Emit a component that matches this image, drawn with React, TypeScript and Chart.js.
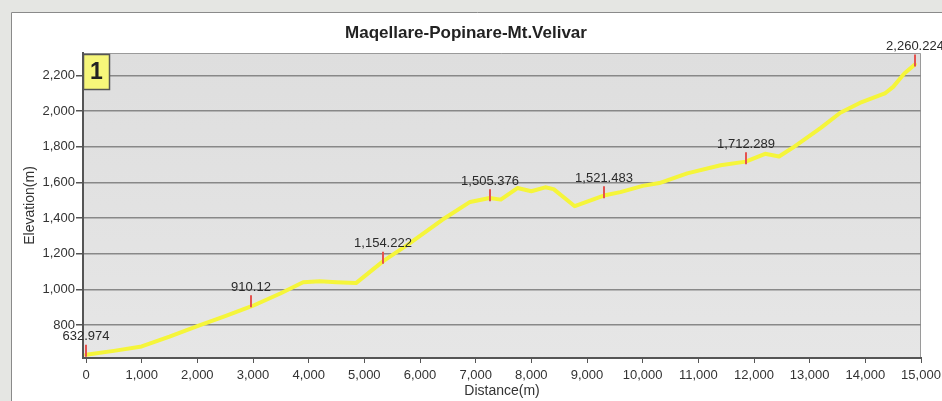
import { useEffect, useRef } from "react";
import { Chart, registerables } from "chart.js";
Chart.register(...registerables);

const chartTitle = "Maqellare-Popinare-Mt.Velivar";
const xAxisTitle = "Distance(m)";
const yAxisTitle = "Elevation(m)";
const badgeText = "1";

const distances = [
  0, 500, 1000, 1500, 2000, 2500, 3000, 3500, 3900, 4200, 4500, 4850, 5340, 5800, 6400, 6900,
  7250, 7450, 7750, 8000, 8250, 8400, 8780, 9300, 9600, 10000, 10300, 10800, 11400, 11850,
  12200, 12450, 12700, 13200, 13550, 13900, 14350, 14500, 14700, 14890,
];
const elevations = [
  633, 655, 680, 735, 794, 850, 908, 978, 1040, 1045, 1040, 1035, 1158, 1255, 1390, 1490,
  1512, 1503, 1568, 1550, 1572, 1562, 1466, 1526, 1545, 1580, 1596, 1650, 1696, 1716,
  1760, 1745, 1795, 1905, 1990, 2045, 2098, 2135, 2210, 2261,
];

const markerDistances = [0, 2970, 5340, 7250, 9300, 11850, 14890];
const markerElevations = [632.974, 910.12, 1154.222, 1505.376, 1521.483, 1712.289, 2260.224];
const markerLabels = ["632.974", "910.12", "1,154.222", "1,505.376", "1,521.483", "1,712.289", "2,260.224"];

const xTickValues = [0, 1000, 2000, 3000, 4000, 5000, 6000, 7000, 8000, 9000, 10000, 11000, 12000, 13000, 14000, 15000];
const yTickValues = [800, 1000, 1200, 1400, 1600, 1800, 2000, 2200];

const FONT = "'Liberation Sans', Arial, sans-serif";

const framePlugin = {
  id: "frame",
  beforeDraw(chart: any) {
    const { ctx, chartArea, width, height } = chart;
    ctx.save();
    ctx.fillStyle = "#e5e6e3";
    ctx.fillRect(0, 0, width, height);
    ctx.fillStyle = "#ffffff";
    ctx.fillRect(11, 12, width, height);
    ctx.strokeStyle = "#8a8a8a";
    ctx.lineWidth = 1;
    ctx.beginPath();
    ctx.moveTo(11.5, height + 2);
    ctx.lineTo(11.5, 12.5);
    ctx.lineTo(width + 2, 12.5);
    ctx.stroke();
    const { left, top, right, bottom } = chartArea;
    const g = ctx.createLinearGradient(0, top, 0, bottom);
    g.addColorStop(0, "#dedede");
    g.addColorStop(1, "#e6e6e6");
    ctx.fillStyle = g;
    ctx.fillRect(left, top, right - left, bottom - top);
    ctx.strokeStyle = "#9a9a9a";
    ctx.beginPath();
    ctx.moveTo(left, top + 0.5);
    ctx.lineTo(right - 0.5, top + 0.5);
    ctx.lineTo(right - 0.5, bottom);
    ctx.stroke();
    ctx.restore();
  },
  afterDatasetsDraw(chart: any) {
    const { ctx } = chart;
    const xs = chart.scales.x;
    const ys = chart.scales.y;
    ctx.save();
    ctx.font = `13px ${FONT}`;
    ctx.textAlign = "center";
    ctx.textBaseline = "middle";
    markerDistances.forEach((d, i) => {
      const px = Math.round(xs.getPixelForValue(d));
      const py = ys.getPixelForValue(markerElevations[i]);
      ctx.strokeStyle = "#e5524e";
      ctx.lineWidth = 2;
      ctx.beginPath();
      ctx.moveTo(px, py + 2);
      ctx.lineTo(px, py - 10);
      ctx.stroke();
      ctx.fillStyle = "#2a2a2a";
      ctx.fillText(markerLabels[i], px, py - 18);
    });
    ctx.restore();
  },
  afterDraw(chart: any) {
    const { ctx, chartArea } = chart;
    const bx = chartArea.left + 0.5;
    const by = chartArea.top + 1.5;
    ctx.save();
    ctx.fillStyle = "#f6f67a";
    ctx.fillRect(bx, by, 26, 35);
    ctx.strokeStyle = "#555555";
    ctx.lineWidth = 1.5;
    ctx.strokeRect(bx, by, 26, 35);
    ctx.fillStyle = "#222222";
    ctx.font = `bold 23px ${FONT}`;
    ctx.textAlign = "center";
    ctx.textBaseline = "middle";
    ctx.fillText(badgeText, bx + 13, by + 18.5);
    ctx.restore();
  },
};

export default function App() {
  const ref = useRef<HTMLCanvasElement | null>(null);
  useEffect(() => {
    if (!ref.current) return;
    const chart = new Chart(ref.current, {
      type: "line",
      data: {
        datasets: [
          {
            data: distances.map((d, i) => ({ x: d, y: elevations[i] })),
            borderColor: "#f5f53a",
            borderWidth: 4,
            pointRadius: 0,
            tension: 0,
            borderJoinStyle: "round",
            borderCapStyle: "round",
            fill: false,
          },
        ],
      },
      options: {
        animation: false,
        responsive: false,
        devicePixelRatio: 1,
        layout: { padding: { left: 11, right: 21, top: 0, bottom: 0 } },
        plugins: {
          legend: { display: false },
          tooltip: { enabled: false },
          title: {
            display: true,
            text: chartTitle,
            color: "#222222",
            font: { family: FONT, size: 17, weight: "bold" },
            padding: { top: 23, bottom: 9.6 },
          },
        },
        scales: {
          x: {
            type: "linear",
            min: -54,
            max: 15000,
            afterBuildTicks: (s: any) => {
              s.ticks = xTickValues.map((v) => ({ value: v }));
            },
            afterFit: (s: any) => {
              s.height = 43;
              s.paddingLeft = 0;
              s.paddingRight = 0;
            },
            ticks: {
              color: "#333333",
              font: { family: FONT, size: 13 },
              padding: 5,
              maxRotation: 0,
              autoSkip: false,
              callback: (v: any) => Number(v).toLocaleString("en-US"),
            },
            grid: { drawOnChartArea: false, drawTicks: true, tickLength: 5, color: "#555555", lineWidth: 1 },
            border: { color: "#555555", width: 2 },
            title: {
              display: true,
              text: xAxisTitle,
              color: "#333333",
              font: { family: FONT, size: 14 },
              padding: { top: 0, bottom: 1 },
            },
          },
          y: {
            type: "linear",
            min: 615,
            max: 2325,
            afterBuildTicks: (s: any) => {
              s.ticks = yTickValues.map((v) => ({ value: v }));
            },
            afterFit: (s: any) => {
              s.width = 72;
              s.paddingTop = 0;
              s.paddingBottom = 0;
            },
            ticks: {
              color: "#333333",
              font: { family: FONT, size: 13 },
              padding: 1,
              autoSkip: false,
              callback: (v: any) => Number(v).toLocaleString("en-US"),
            },
            grid: { color: "#888888", lineWidth: 1.5, drawTicks: true, tickLength: 7, tickColor: "#555555" },
            border: { color: "#555555", width: 2 },
            title: {
              display: true,
              text: yAxisTitle,
              color: "#333333",
              font: { family: FONT, size: 14 },
              padding: { top: 10.6, bottom: 0 },
            },
          },
        },
      },
      plugins: [framePlugin],
    } as any);
    return () => chart.destroy();
  }, []);
  return (
    <div style={{ position: "absolute", left: 0, top: 0, width: 942, height: 401 }}>
      <canvas ref={ref} width={942} height={401} style={{ width: 942, height: 401, display: "block" }} />
    </div>
  );
}
